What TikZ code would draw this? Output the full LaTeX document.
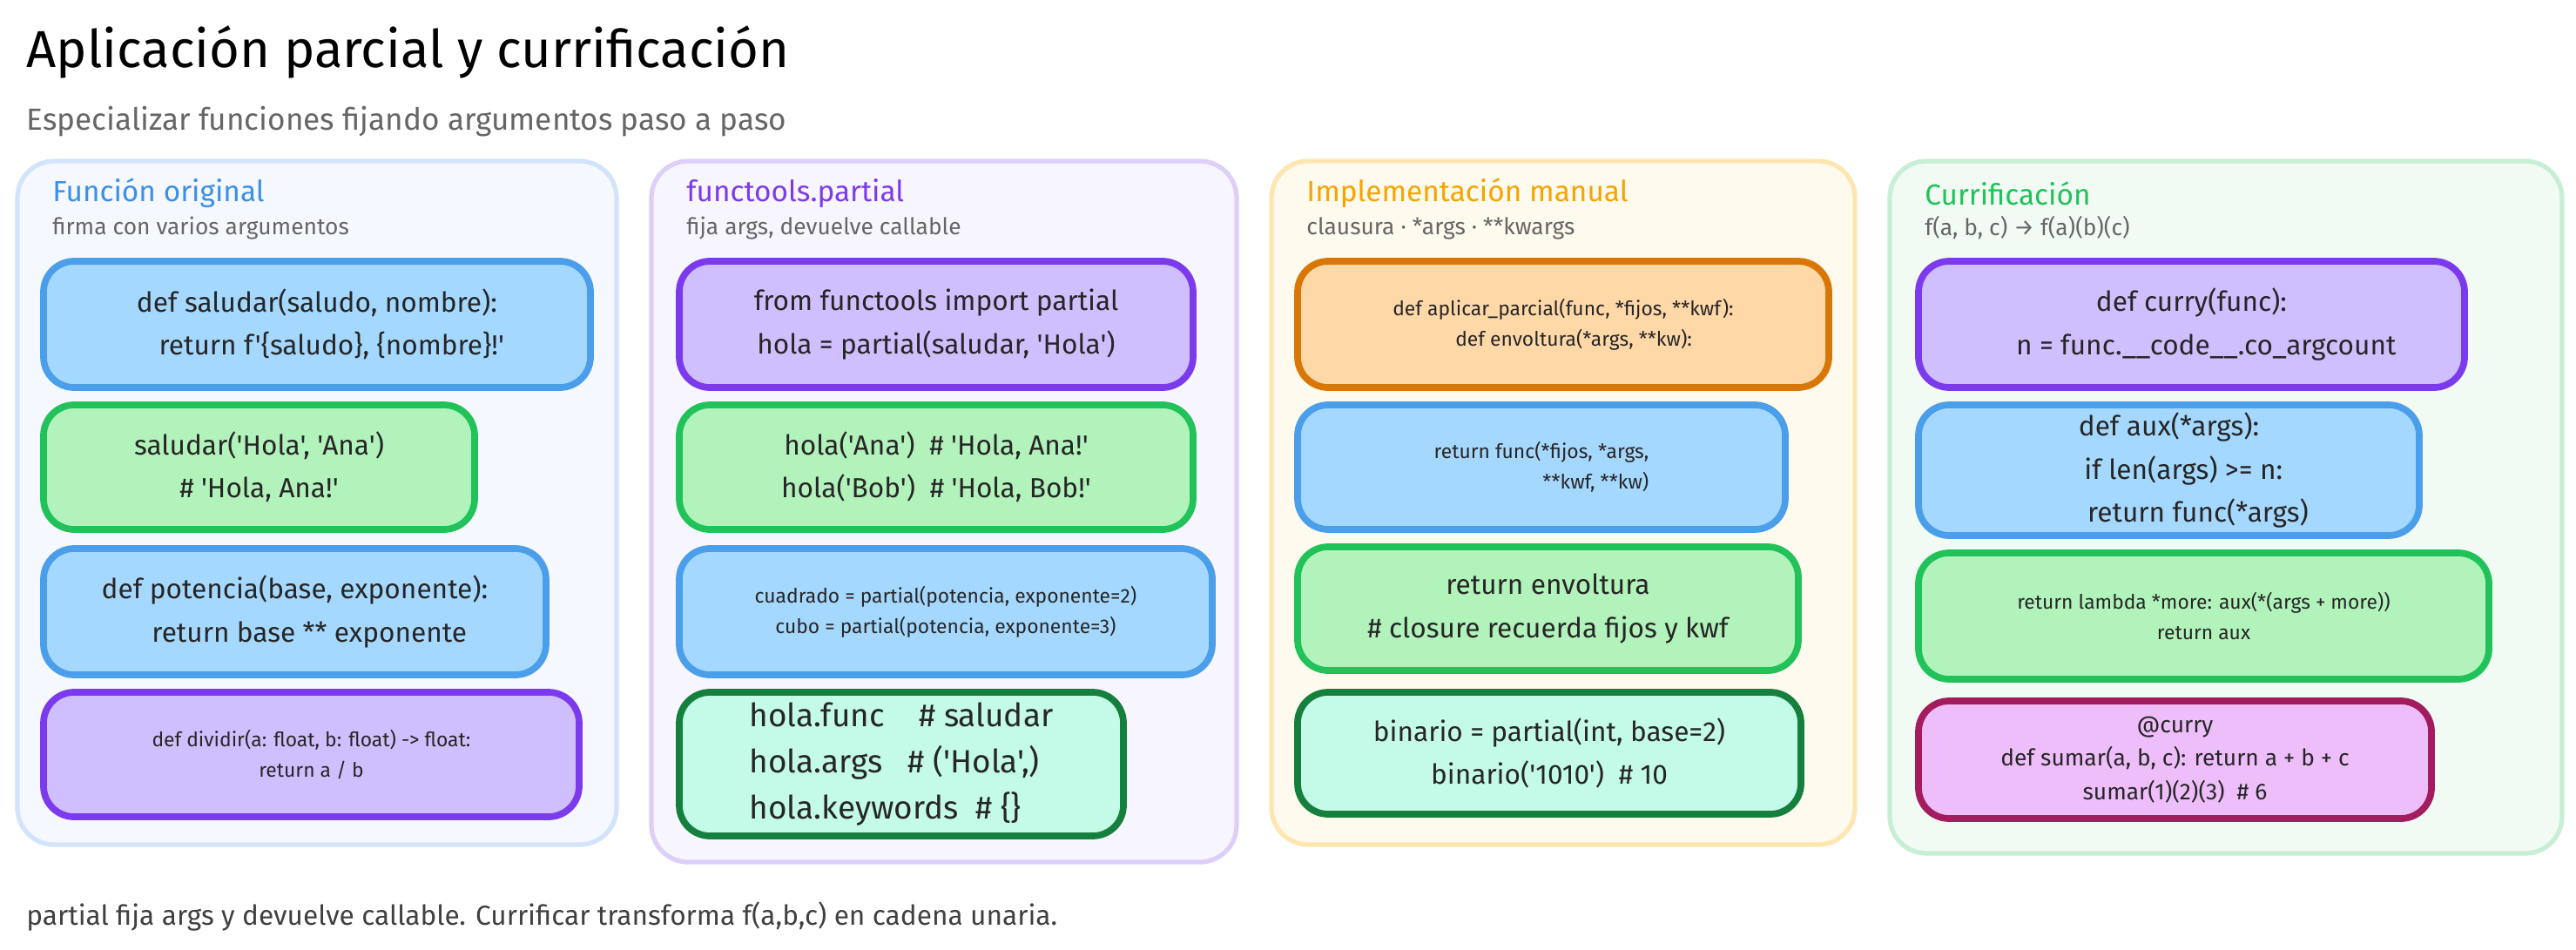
\documentclass[tikz,border=0pt]{standalone}
\usepackage{fontspec}
\setmainfont{Fira Sans}[Ligatures=TeXOff]
\definecolor{pbl}{HTML}{F5F8FE}\definecolor{pbld}{HTML}{D2E4FA}
\definecolor{ppu}{HTML}{F7F5FE}\definecolor{ppud}{HTML}{DCCFF8}
\definecolor{por}{HTML}{FFFAEE}\definecolor{pord}{HTML}{FDE6B0}
\definecolor{pgr}{HTML}{F1FBF4}\definecolor{pgrd}{HTML}{C8EED5}
\definecolor{fbl}{HTML}{A5D8FF}\definecolor{dbl}{HTML}{4A9EEA}
\definecolor{fgr}{HTML}{B2F2BB}\definecolor{dgr}{HTML}{22C25A}
\definecolor{fpu}{HTML}{D0BFFF}\definecolor{dpu}{HTML}{7C3AED}
\definecolor{for}{HTML}{FFD8A8}\definecolor{dor}{HTML}{D97706}
\definecolor{fmi}{HTML}{C3FAE8}\definecolor{dmi}{HTML}{15803D}
\definecolor{fpk}{HTML}{EEBEFA}\definecolor{dpk}{HTML}{A21C5E}
\definecolor{tbl}{HTML}{3B8FE8}\definecolor{tpu}{HTML}{7C3AED}
\definecolor{tor}{HTML}{F5A400}\definecolor{tgr}{HTML}{22C25A}
\tikzset{
 panel/.style={draw=#1d,fill=#1,line width=1.5pt,rounded corners=12pt},
 box/.style n args={2}{draw=#2,fill=#1,line width=2.2pt,rounded corners=10pt},
 code/.style={font=\fontsize{9}{14}\selectfont,align=center,text=black!85},
 small/.style={font=\fontsize{6.5}{10}\selectfont,align=center,text=black!85},
 ptitle/.style={font=\fontsize{9.5}{11}\selectfont,anchor=west},
 psub/.style={font=\fontsize{7.5}{9}\selectfont,anchor=west,text=black!60},
}
\newcommand{\bx}[9]{%
 \draw[box={#6}{#7}] (#2/100,-#3/100) rectangle (#4/100,-#5/100);
 \node[#8] (#1) at ({(#2+#4)/200},{-(#3+#5)/200}) {#9};}
\begin{document}
\begin{tikzpicture}
\useasboundingbox (0,0) rectangle (29.58,-10.91);
\node[font=\fontsize{17}{20}\selectfont,anchor=west] (title) at (0.18,-0.6) {Aplicación parcial y currificación};
\node[font=\fontsize{10}{12}\selectfont,anchor=west,text=black!60] (subtitle) at (0.18,-1.4) {Especializar funciones fijando argumentos paso a paso};
\node[font=\fontsize{9}{11}\selectfont,anchor=west,text=black!75] (footer) at (0.18,-10.52) {partial fija args y devuelve callable. Currificar transforma f(a,b,c) en cadena unaria.};
% panels
\draw[panel=pbl] (0.2,-1.85) rectangle (7.08,-9.7);
\draw[panel=ppu] (7.48,-1.85) rectangle (14.2,-9.9);
\draw[panel=por] (14.6,-1.85) rectangle (21.3,-9.7);
\draw[panel=pgr] (21.7,-1.85) rectangle (29.42,-9.8);
\node[ptitle,text=tbl] (t1) at (0.48,-2.22) {Función original};
\node[psub] (s1) at (0.48,-2.62) {firma con varios argumentos};
\node[ptitle,text=tpu] (t2) at (7.76,-2.22) {functools.partial};
\node[psub] (s2) at (7.76,-2.62) {fija args, devuelve callable};
\node[ptitle,text=tor] (t3) at (14.88,-2.22) {Implementación manual};
\node[psub] (s3) at (14.88,-2.62) {clausura · *args · **kwargs};
\node[ptitle,text=tgr] (t4) at (21.98,-2.22) {Currificación};
\node[psub] (s4) at (21.98,-2.62) {f(a, b, c) → f(a)(b)(c)};
% column 1
\bx{a1}{50}{300}{678}{445}{fbl}{dbl}{code}{def saludar(saludo, nombre):\\\ \ \ \ return f'\{saludo\}, \{nombre\}!'}
\bx{a2}{50}{465}{545}{608}{fgr}{dgr}{code}{saludar('Hola', 'Ana')\\\# 'Hola, Ana!'}
\bx{a3}{50}{630}{627}{775}{fbl}{dbl}{code}{def potencia(base, exponente):\\\ \ \ \ return base ** exponente}
\bx{a4}{50}{795}{665}{938}{fpu}{dpu}{small}{def dividir(a: float, b: float) -> float:\\return a / b}
% column 2
\bx{b1}{780}{300}{1370}{445}{fpu}{dpu}{code}{from functools import partial\\hola = partial(saludar, 'Hola')}
\bx{b2}{780}{465}{1370}{608}{fgr}{dgr}{code}{hola('Ana')\ \ \# 'Hola, Ana!'\\hola('Bob')\ \ \# 'Hola, Bob!'}
\bx{b3}{780}{630}{1392}{775}{fbl}{dbl}{small}{cuadrado = partial(potencia, exponente=2)\\cubo = partial(potencia, exponente=3)}
\bx{b4}{780}{795}{1290}{960}{fmi}{dmi}{code,font=\fontsize{10.5}{15}\selectfont,align=left}{hola.func\ \ \ \ \# saludar\\hola.args\ \ \ \# ('Hola',)\\hola.keywords\ \ \# \{\}}
% column 3
\bx{c1}{1490}{300}{2100}{445}{for}{dor}{small}{def aplicar\_parcial(func, *fijos, **kwf):\\\ \ \ \ def envoltura(*args, **kw):}
\bx{c2}{1490}{465}{2050}{608}{fbl}{dbl}{small,align=right}{return func(*fijos, *args,\\**kwf, **kw)}
\bx{c3}{1490}{628}{2065}{770}{fgr}{dgr}{code}{return envoltura\\\# closure recuerda fijos y kwf}
\bx{c4}{1490}{795}{2068}{935}{fmi}{dmi}{code}{binario = partial(int, base=2)\\binario('1010')\ \ \# 10}
% column 4
\bx{d1}{2203}{300}{2830}{445}{fpu}{dpu}{code}{def curry(func):\\\ \ \ \ n = func.\_\_code\_\_.co\_argcount}
\bx{d2}{2203}{465}{2778}{615}{fbl}{dbl}{code}{def aux(*args):\\\ \ \ \ if len(args) >= n:\\\ \ \ \ \ \ \ \ return func(*args)}
\bx{d3}{2203}{635}{2858}{780}{fgr}{dgr}{small}{return lambda *more: aux(*(args + more))\\return aux}
\bx{d4}{2203}{805}{2792}{940}{fpk}{dpk}{small,font=\fontsize{7.5}{11}\selectfont}{@curry\\def sumar(a, b, c): return a + b + c\\sumar(1)(2)(3)\ \ \# 6}
\end{tikzpicture}
\end{document}
